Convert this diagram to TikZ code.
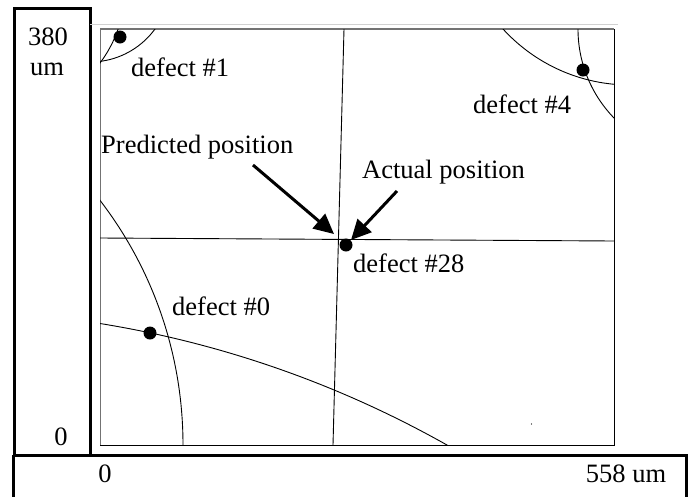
\documentclass[tikz,border=0pt]{standalone}
\usepackage{fontspec}
\setmainfont{Liberation Serif}
\usetikzlibrary{arrows.meta}
\begin{document}
\begin{tikzpicture}[x=1pt,y=-1pt,
  lbl/.style={font=\fontsize{26.5}{30}\selectfont, inner sep=0pt, anchor=base west},
  clbl/.style={lbl, anchor=base},
  dot/.style={circle, fill=black, minimum size=13pt, inner sep=0pt},
  thinline/.style={line width=0.9pt},
  frame/.style={line width=3pt},
  pointer/.style={line width=3pt, -{Triangle[length=20pt,width=19pt]}}]
\useasboundingbox (0,0) rectangle (694,496);
% outer frames
\draw[frame] (13,455) -- (13,530) (13,455) -- (686,455) -- (686,530);
\draw[frame] (14,8) rectangle (90,455);
% faint top line
\draw[black!18, line width=1.3pt] (90,24.5) -- (618,24.5);
% plot area
\draw[thinline] (614,29) -- (614,445) -- (100,445);
\draw[black!55, thinline] (100,445) -- (100,29);
\draw[black!55, line width=2.2pt] (100,29) -- (614,29);
% arcs and lines clipped to the plot area
\begin{scope}
\clip (100,29) rectangle (614,445);
\draw[thinline] (90,-18.5) circle[radius=80.5pt];
\draw[thinline] (0,-12) circle[radius=125pt];
\draw[thinline] (706,29) circle[radius=128pt];
\draw[thinline] (630,-87) circle[radius=172pt];
\draw[thinline] (-219,445) circle[radius=402pt];
\draw[thinline] (-69,1362) circle[radius=1052pt];
\draw[thinline] (344,29) -- (333,445);
\draw[thinline] (100,238) -- (614,241);
\end{scope}
% tiny speck
\fill (531.5,424) circle[radius=0.7pt];
% defects
\node[dot] (d1) at (120,37) {};
\node[dot] (d4) at (583,70) {};
\node[dot] (d28) at (346,245) {};
\node[dot] (d0) at (150,333) {};
% labels
\node[lbl] (l1) at (131,76) {defect \#1};
\node[lbl] (l4) at (473,113) {defect \#4};
\node[lbl] (lpred) at (101,153) {Predicted position};
\node[lbl] (lact) at (362,178) {Actual position};
\node[lbl] (l28) at (353,272) {defect \#28};
\node[lbl] (l0) at (172,315) {defect \#0};
\node[clbl] (y380) at (48,45) {380};
\node[clbl] (yum) at (47,75) {um};
\node[clbl] (y0) at (61,445) {0};
\node[clbl] (x0) at (105,482) {0};
\node[clbl] (x558) at (626,482) {558 um};
% arrows
\coordinate (ptail) at (253,165);
\coordinate (ptip) at (334,234);
\coordinate (atail) at (397,191);
\coordinate (atip) at (351,240);
\draw[pointer] (ptail) -- (ptip);
\draw[pointer] (atail) -- (atip);
\end{tikzpicture}
\end{document}
